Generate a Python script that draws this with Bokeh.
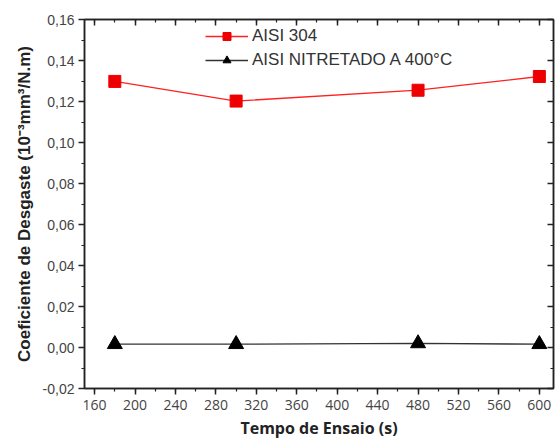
from bokeh.plotting import figure
from bokeh.models import (Range1d, LinearAxis, FixedTicker, CustomJSTickFormatter, Legend, LegendItem)
from bokeh.embed import file_html
from bokeh.resources import INLINE

tempo = [180, 300, 480, 600]
aisi304 = [0.1298, 0.1202, 0.1255, 0.1322]
nitretado = [0.0016, 0.0016, 0.0020, 0.0016]
x_ticks = [160, 200, 240, 280, 320, 360, 400, 440, 480, 520, 560, 600]
y_ticks = [-0.02, 0.0, 0.02, 0.04, 0.06, 0.08, 0.10, 0.12, 0.14, 0.16]

p = figure(width=555, height=441, output_backend="svg", toolbar_location=None,
           x_range=Range1d(150, 614), y_range=Range1d(-0.02, 0.16),
           min_border_left=84, min_border_right=2, min_border_top=19, min_border_bottom=51)
p.grid.visible = False
p.outline_line_color = "#222222"
p.outline_line_width = 1.5
p.background_fill_color = "white"
p.border_fill_color = "white"

xminor = list(range(160, 620, 20))
yminor = [round(-0.02 + 0.01 * i, 3) for i in range(19)]

xfmt = CustomJSTickFormatter(code="return tick.toFixed(0);")
yfmt = CustomJSTickFormatter(code="return tick.toFixed(2).replace('.', ',');")
blank = CustomJSTickFormatter(code="return '';")

def style(ax):
    ax.axis_line_width = 1.5
    ax.axis_line_color = "#222222"
    ax.major_tick_line_color = "#222222"
    ax.minor_tick_line_color = "#222222"
    ax.major_tick_line_width = 1.5
    ax.minor_tick_line_width = 1.2
    ax.major_label_text_color = "#444444"

xa = p.xaxis[0]
xa.ticker = FixedTicker(ticks=x_ticks, minor_ticks=xminor)
xa.formatter = xfmt
style(xa)
xa.major_label_text_font = "Open Sans"
xa.major_label_text_font_size = "14px"
xa.major_tick_out = 6
xa.major_tick_in = 0
xa.minor_tick_out = 3
xa.minor_tick_in = 0
xa.major_label_standoff = 5
xa.axis_label = "Tempo de Ensaio (s)"
xa.axis_label_text_font = "Open Sans"
xa.axis_label_text_font_style = "bold"
xa.axis_label_text_font_size = "16px"
xa.axis_label_text_color = "#222222"
xa.axis_label_standoff = 4

ya = p.yaxis[0]
ya.ticker = FixedTicker(ticks=y_ticks, minor_ticks=yminor)
ya.formatter = yfmt
style(ya)
ya.major_label_text_font = "Liberation Sans"
ya.major_label_text_font_size = "14px"
ya.major_tick_out = 6
ya.major_tick_in = 0
ya.minor_tick_out = 3
ya.minor_tick_in = 0
ya.major_label_standoff = 4
ya.axis_label = "Coeficiente de Desgaste (10⁻³mm³/N.m)"
ya.axis_label_text_font = "Liberation Sans"
ya.axis_label_text_font_style = "bold"
ya.axis_label_text_font_size = "17px"
ya.axis_label_text_color = "#222222"
ya.axis_label_standoff = 6

ta = LinearAxis(ticker=FixedTicker(ticks=x_ticks, minor_ticks=xminor), formatter=blank)
style(ta)
ta.major_tick_out = 0
ta.major_tick_in = 6
ta.minor_tick_out = 0
ta.minor_tick_in = 3
ta.major_label_standoff = 0
p.add_layout(ta, "above")

ra = LinearAxis(ticker=FixedTicker(ticks=y_ticks, minor_ticks=yminor), formatter=blank)
style(ra)
ra.major_tick_out = 0
ra.major_tick_in = 6
ra.minor_tick_out = 0
ra.minor_tick_in = 3
ra.major_label_standoff = 0
p.add_layout(ra, "right")

r1l = p.line(tempo, aisi304, line_color="#ff2020", line_width=1.3)
r1m = p.scatter(tempo, aisi304, marker="square", size=12, fill_color="#ee0000", line_color="#ee0000")
r2l = p.line(tempo, nitretado, line_color="#333333", line_width=1.3)
r2m = p.scatter(tempo, nitretado, marker="triangle", size=15, fill_color="black", line_color="black")

leg = Legend(items=[LegendItem(label="AISI 304", renderers=[r1l, r1m]),
                    LegendItem(label="AISI NITRETADO A 400°C", renderers=[r2l, r2m])],
             location=(121, 318))
leg.background_fill_alpha = 0
leg.border_line_alpha = 0
leg.padding = 0
leg.margin = 0
leg.spacing = 4
leg.glyph_width = 43
leg.glyph_height = 20
leg.label_height = 20
leg.label_standoff = 4
leg.label_text_font = "Liberation Sans"
leg.label_text_font_size = "17px"
leg.label_text_color = "#333333"
p.add_layout(leg, "center")

open("out.html", "w").write(file_html(p, INLINE))
